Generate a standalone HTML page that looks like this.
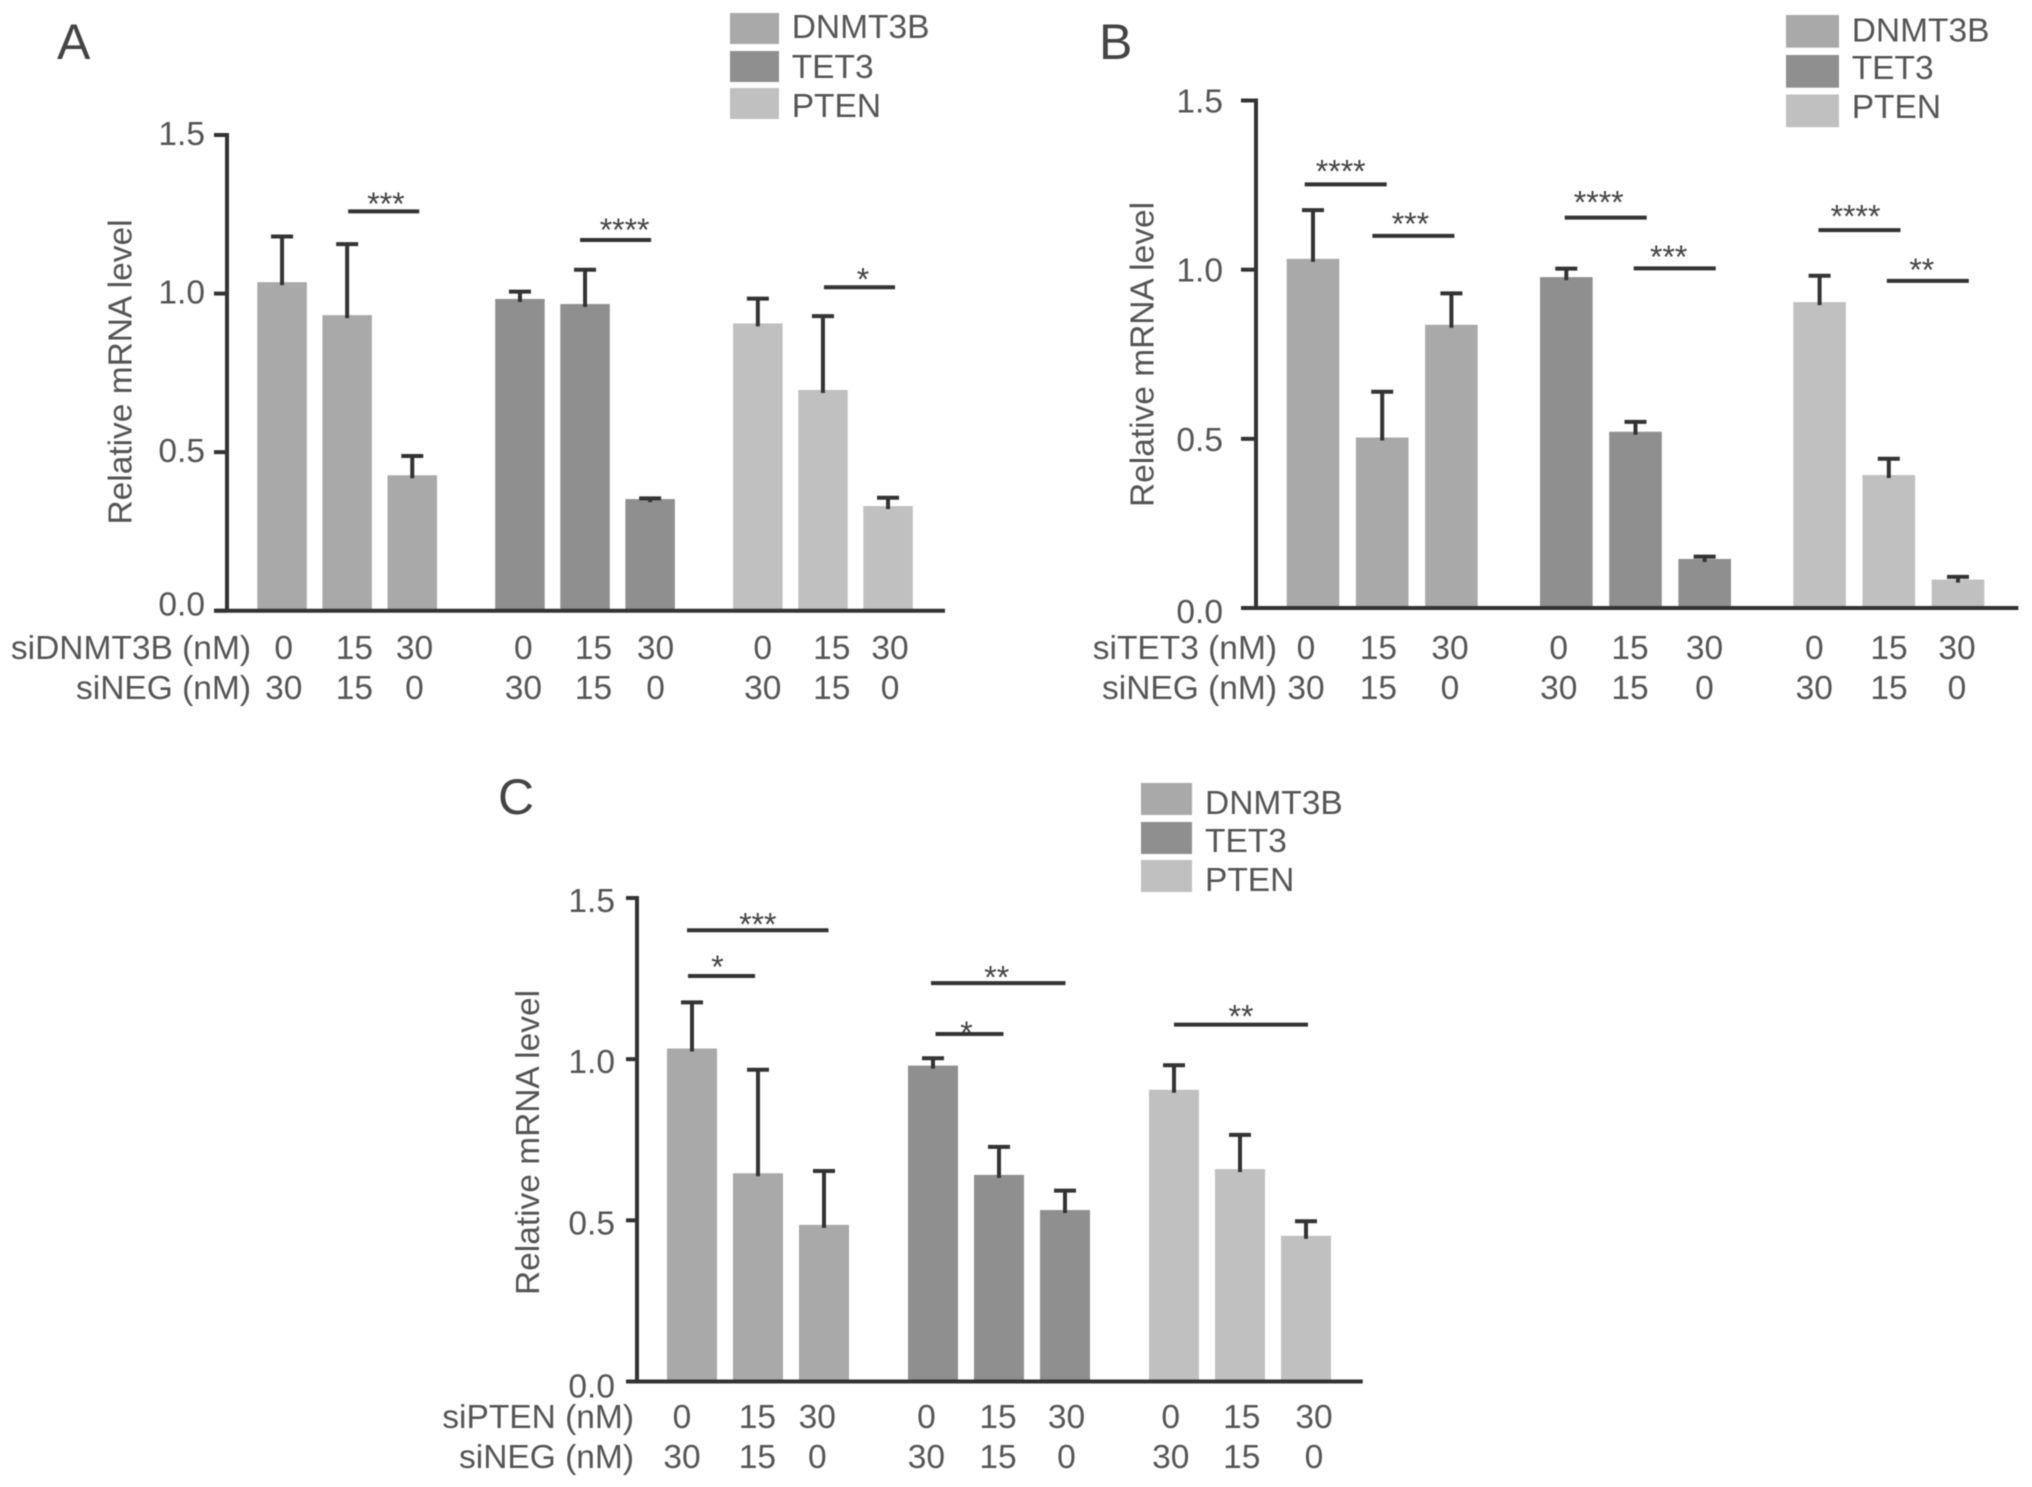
<!DOCTYPE html>
<html lang="en">
<head>
<meta charset="utf-8">
<title>Relative mRNA level panels</title>
<style>
html,body{margin:0;padding:0;background:#fff;width:2032px;height:1487px;overflow:hidden}
svg{display:block;filter:blur(0.5px)}
text{font-family:"Liberation Sans",sans-serif;fill:#555;font-size:33.5px}
</style>
</head>
<body>
<svg id="figure" width="2032" height="1487" viewBox="0 0 2032 1487" xmlns="http://www.w3.org/2000/svg"></svg>
<script>
// ---- Data -------------------------------------------------------------
const seriesNames = ['DNMT3B', 'TET3', 'PTEN'];
const yTicks = [0, 0.5, 1.0, 1.5];
const yTickLabels = ['0.0', '0.5', '1.0', '1.5'];
const treatmentRow = ['0', '15', '30', '0', '15', '30', '0', '15', '30'];
const negativeRow = ['30', '15', '0', '30', '15', '0', '30', '15', '0'];

const panelAValues = [1.036, 0.932, 0.427, 0.983, 0.967, 0.352, 0.906, 0.696, 0.33];
const panelAErrorTops = [1.18, 1.156, 0.488, 1.006, 1.075, 0.354, 0.984, 0.929, 0.356];
const panelASigLevels = [1.259, 1.169, 1.02];
const panelASigStarLevels = [1.297, 1.215, 1.058];
const panelASigLabels = ['***', '****', '*'];

const panelBValues = [1.032, 0.504, 0.837, 0.978, 0.521, 0.145, 0.904, 0.393, 0.084];
const panelBErrorTops = [1.176, 0.639, 0.93, 1.003, 0.55, 0.152, 0.982, 0.441, 0.092];
const panelBSigLevels = [1.252, 1.10, 1.154, 1.004, 1.117, 0.967];
const panelBSigStarLevels = [1.303, 1.149, 1.212, 1.051, 1.17, 1.012];
const panelBSigLabels = ['****', '***', '****', '***', '****', '**'];

const panelCValues = [1.033, 0.646, 0.486, 0.98, 0.641, 0.532, 0.905, 0.659, 0.452];
const panelCErrorTops = [1.176, 0.967, 0.653, 1.003, 0.728, 0.592, 0.981, 0.765, 0.497];
const panelCSigLevels = [1.40, 1.258, 1.236, 1.078, 1.107];
const panelCSigStarLevels = [1.431, 1.30, 1.268, 1.095, 1.147];
const panelCSigLabels = ['***', '*', '**', '*', '**'];

// ---- Styles and layout --------------------------------------------------
const seriesColors = ['#a9a9a9', '#8f8f8f', '#c0c0c0'];
const axisColor = '#333';
const NS = 'http://www.w3.org/2000/svg';
const figure = document.getElementById('figure');

const panels = [
  { id: 'a', letter: 'A', letterX: 57, letterY: 59,
    values: panelAValues, errors: panelAErrorTops,
    sigLevels: panelASigLevels, sigStars: panelASigStarLevels, sigLabels: panelASigLabels,
    sigFrom: [1, 4, 7], sigTo: [2, 5, 8],
    sigFromDx: [1, -5, 1], sigToDx: [7, 1, 7], sigStarDx: [2.2, 9, 3.5],
    axisX: 227, y0: 610.7, y15: 135, tickLeft: 214, axisRight: 945,
    barLeft: 257.3, barWidth: 49.5, barStep: 65.1, groupStep: 237.9,
    tickLabelRight: 205, tickLabelDy: 10, zeroLabelDy: 5,
    rowTitle: 'siDNMT3B (nM)', rowRight: 251, row1Y: 659, row2Y: 699,
    labelDx: [1.7, 7.2, 2.2, 3.4, 8.4, 5.4, 4.9, 8.8, 2],
    titleX: 131.5, titleCenter: 372,
    legendX: 730, legendW: 49, legendTops: [13, 51, 88], legendH: 31,
    legendTextX: 791.7, legendBase: [38, 78, 117] },
  { id: 'b', letter: 'B', letterX: 1099, letterY: 59,
    values: panelBValues, errors: panelBErrorTops,
    sigLevels: panelBSigLevels, sigStars: panelBSigStarLevels, sigLabels: panelBSigLabels,
    sigFrom: [0, 1, 3, 4, 6, 7], sigTo: [1, 2, 4, 5, 7, 8],
    sigFromDx: [-8.3, -9.8, -1.6, -1.8, -1.1, -2], sigToDx: [4.5, 3, 11.2, 11, 11.7, 10.8], sigStarDx: [-5, -3, -7, -6, -4, -6],
    axisX: 1256, y0: 608, y15: 100.5, tickLeft: 1241, axisRight: 2018.3,
    barLeft: 1286.7, barWidth: 52.6, barStep: 69.2, groupStep: 253.3,
    tickLabelRight: 1223, tickLabelDy: 12, zeroLabelDy: 15,
    rowTitle: 'siTET3 (nM)', rowRight: 1277, row1Y: 659, row2Y: 699,
    labelDx: [-7, -3.8, -1.4, -7.6, -5.5, -0.2, -5.3, 0.2, -1],
    titleX: 1153.5, titleCenter: 354.5,
    legendX: 1786, legendW: 53, legendTops: [15, 55, 94.5], legendH: 32.7,
    legendTextX: 1851.7, legendBase: [41.7, 79, 118] },
  { id: 'c', letter: 'C', letterX: 498, letterY: 814,
    values: panelCValues, errors: panelCErrorTops,
    sigLevels: panelCSigLevels, sigStars: panelCSigStarLevels, sigLabels: panelCSigLabels,
    sigFrom: [0, 0, 3, 3, 6], sigTo: [2, 1, 5, 4, 8],
    sigFromDx: [-5, -4, -2, 2.5, 0], sigToDx: [4.5, -3, 0.5, 4.5, 2], sigStarDx: [0, -4, -1.5, -3, 0],
    axisX: 637, y0: 1381.5, y15: 898, tickLeft: 626, axisRight: 1362.7,
    barLeft: 667, barWidth: 50, barStep: 66, groupStep: 241,
    tickLabelRight: 615, tickLabelDy: 14, zeroLabelDy: 16,
    rowTitle: 'siPTEN (nM)', rowRight: 634, row1Y: 1428, row2Y: 1468,
    labelDx: [-10, -0.6, -6.7, -6.6, -1, 1.5, -3.3, 1.7, 8],
    titleX: 539, titleCenter: 1142.5,
    legendX: 1141, legendW: 51, legendTops: [783, 822, 860], legendH: 32,
    legendTextX: 1205, legendBase: [814, 852, 891] }
];

function svgEl(tag, attrs, parent, content) {
  const el = document.createElementNS(NS, tag);
  for (const key in attrs) { el.setAttribute(key, attrs[key]); }
  if (content !== undefined) { el.textContent = content; }
  parent.appendChild(el);
  return el;
}

function drawPanel(p) {
  const yScale = v => p.y0 - v * (p.y0 - p.y15) / 1.5;
  const barLeftAt = i => p.barLeft + (i % 3) * p.barStep + Math.floor(i / 3) * p.groupStep;
  const barCenter = i => barLeftAt(i) + p.barWidth / 2;

  const group = svgEl('g', {}, figure);
  
  

  const letter = svgEl('text', { x: p.letterX, y: p.letterY, style: 'font-size:50px;fill:#444' }, group, p.letter);
  
  

  // Bars and error bars
  p.values.forEach((value, i) => {
    const series = Math.floor(i / 3);
    const top = yScale(value);
    const bar = svgEl('rect', { x: barLeftAt(i), y: top, width: p.barWidth, height: p.y0 - top, fill: seriesColors[series] }, group);
    
    

    const errTop = yScale(p.errors[i]);
    const cx = barCenter(i);
    const stem = svgEl('line', { x1: cx, x2: cx, y1: top + 3, y2: errTop, stroke: axisColor, 'stroke-width': 4 }, group);
    
    
    const cap = svgEl('line', { x1: cx - 11, x2: cx + 11, y1: errTop, y2: errTop, stroke: axisColor, 'stroke-width': 4 }, group);
    
    
  });

  // Axes
  const yAxis = svgEl('line', { x1: p.axisX, x2: p.axisX, y1: p.y15 - 2, y2: p.y0, stroke: axisColor, 'stroke-width': 4 }, group);
  
  
  const xAxis = svgEl('line', { x1: p.tickLeft, x2: p.axisRight, y1: p.y0, y2: p.y0, stroke: axisColor, 'stroke-width': 4 }, group);
  
  

  yTicks.forEach((tick, i) => {
    const ty = yScale(tick);
    const mark = svgEl('line', { x1: p.tickLeft, x2: p.axisX, y1: ty, y2: ty, stroke: axisColor, 'stroke-width': 4 }, group);
    
    
    const dy = tick === 0 ? p.zeroLabelDy : p.tickLabelDy;
    const label = svgEl('text', { x: p.tickLabelRight, y: ty + dy, 'text-anchor': 'end' }, group, yTickLabels[i]);
    
    
  });

  const title = svgEl('text', {
    x: p.titleX, y: p.titleCenter, 'text-anchor': 'middle',
    transform: 'rotate(-90 ' + p.titleX + ' ' + p.titleCenter + ')',
    textLength: 305, lengthAdjust: 'spacingAndGlyphs'
  }, group, 'Relative mRNA level');
  
  

  // Dose rows
  const row1Title = svgEl('text', { x: p.rowRight, y: p.row1Y, 'text-anchor': 'end' }, group, p.rowTitle);
  
  
  const row2Title = svgEl('text', { x: p.rowRight, y: p.row2Y, 'text-anchor': 'end' }, group, 'siNEG (nM)');
  
  

  treatmentRow.forEach((txt, i) => {
    const lx = barCenter(i) + p.labelDx[i];
    const doseA = svgEl('text', { x: lx, y: p.row1Y, 'text-anchor': 'middle' }, group, txt);
    
    
    const doseB = svgEl('text', { x: lx, y: p.row2Y, 'text-anchor': 'middle' }, group, negativeRow[i]);
    
    
  });

  // Significance brackets
  p.sigLevels.forEach((level, i) => {
    const x1 = barCenter(p.sigFrom[i]) + p.sigFromDx[i];
    const x2 = barCenter(p.sigTo[i]) + p.sigToDx[i];
    const ly = yScale(level);
    const line = svgEl('line', { x1: x1, x2: x2, y1: ly, y2: ly, stroke: axisColor, 'stroke-width': 4 }, group);
    
    
    const star = svgEl('text', {
      x: (x1 + x2) / 2 + p.sigStarDx[i],
      y: yScale(p.sigStars[i]) + 15.5,
      'text-anchor': 'middle',
      style: 'font-size:32px;fill:#444'
    }, group, p.sigLabels[i]);
    
    
  });

  // Legend
  seriesNames.forEach((name, i) => {
    const swatch = svgEl('rect', { x: p.legendX, y: p.legendTops[i], width: p.legendW, height: p.legendH, fill: seriesColors[i] }, group);
    
    
    const entry = svgEl('text', { x: p.legendTextX, y: p.legendBase[i] }, group, name);
    
    
  });
}

panels.forEach(drawPanel);
</script>
</body>
</html>
